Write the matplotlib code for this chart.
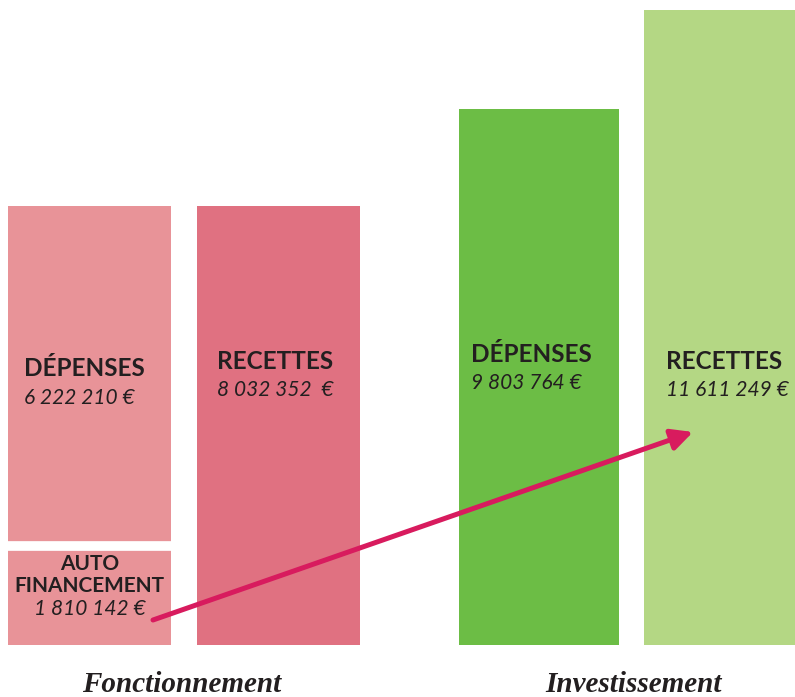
import matplotlib.pyplot as plt

# données (millions d'euros)
categories = ["Fonctionnement", "Investissement"]
depenses = [6.222210, 9.803764]
recettes = [8.032352, 11.611249]
autofin = 1.810142
labels_dep = ["6 222 210 €", "9 803 764 €"]
labels_rec = ["8 032 352  €", "11 611 249 €"]
label_auto = "1 810 142 €"

# couleurs
c_fonc_dep = "#E89398"
c_fonc_rec = "#E07181"
c_inv_dep = "#6CBD45"
c_inv_rec = "#B4D784"
c_arrow = "#D81B5E"
c_text = "#231F20"

W, H = 795, 697
BASE = 52        # pixels sous la ligne de base
K = 54.7         # pixels par million

fig = plt.figure(figsize=(W / 100, H / 100), dpi=100)
ax = fig.add_axes([0, 0, 1, 1])
ax.set_xlim(0, W)
ax.set_ylim(-BASE / K, (H - BASE) / K)
ax.axis("off")


def py(ypx):
    # pixel (depuis le haut) -> coordonnée y
    return (H - ypx - BASE) / K


x_dep = [89.5, 539]
x_rec = [278.5, 724]
w_dep = [163, 160]
w_rec = [163, 160]

# Fonctionnement
ax.bar(x_dep[0], autofin, width=w_dep[0], color=c_fonc_dep)
ax.bar(x_dep[0], depenses[0], bottom=autofin, width=w_dep[0], color=c_fonc_dep)
ax.hlines(autofin, x_dep[0] - 90, x_dep[0] + 90, color="white", lw=7)
ax.bar(x_rec[0], recettes[0], width=w_rec[0], color=c_fonc_rec)
# Investissement
ax.bar(x_dep[1], depenses[1], width=w_dep[1], color=c_inv_dep)
ax.bar(x_rec[1], recettes[1], width=w_rec[1], color=c_inv_rec)

title_kw = dict(family=["Lato", "DejaVu Sans"], weight="bold", size=17.5, color=c_text)
val_kw = dict(family=["Lato", "DejaVu Sans"], weight="normal", style="italic", size=15, color=c_text)
auto_kw = dict(title_kw, size=15)

# étiquettes
ax.text(24, py(368), "DÉPENSES", ha="left", va="center", **title_kw)
ax.text(24, py(398), labels_dep[0], ha="left", va="center", **val_kw)
ax.text(217, py(362), "RECETTES", ha="left", va="center", **title_kw)
ax.text(217, py(390), labels_rec[0], ha="left", va="center", **val_kw)
ax.text(471, py(355), "DÉPENSES", ha="left", va="center", **title_kw)
ax.text(471, py(383), labels_dep[1], ha="left", va="center", **val_kw)
ax.text(666, py(362), "RECETTES", ha="left", va="center", **title_kw)
ax.text(666, py(390), labels_rec[1], ha="left", va="center", **val_kw)

ax.text(x_dep[0], py(564), "AUTO", ha="center", va="center", **auto_kw)
ax.text(x_dep[0], py(586), "FINANCEMENT", ha="center", va="center", **auto_kw)
ax.text(x_dep[0], py(609), label_auto, ha="center", va="center", **val_kw)

# flèche autofinancement -> recettes investissement
ax.annotate("", xy=(693, H - 432), xytext=(153, H - 620),
            xycoords="figure pixels", textcoords="figure pixels",
            arrowprops=dict(arrowstyle="-|>", color=c_arrow, lw=3.6,
                            mutation_scale=32, shrinkA=0, shrinkB=0))

# titres de groupes
grp_kw = dict(family=["Liberation Serif"], weight="bold", style="italic", size=21, color=c_text)
ax.text(182, py(685), categories[0], ha="center", va="center", **grp_kw)
ax.text(634, py(685), categories[1], ha="center", va="center", **grp_kw)

plt.savefig("out.png", dpi=100)
